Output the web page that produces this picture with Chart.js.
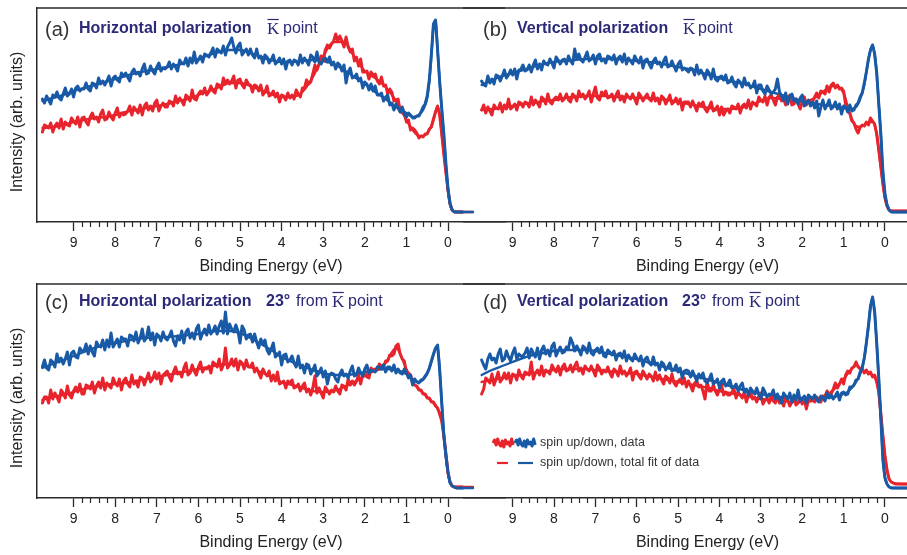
<!DOCTYPE html>
<html>
<head>
<meta charset="utf-8">
<script src="https://cdn.jsdelivr.net/npm/chart.js@4.4.0/dist/chart.umd.min.js"></script>
<style>
  html, body { margin: 0; padding: 0; width: 907px; height: 555px; overflow: hidden; background: #fff; }
  canvas { position: absolute; }
</style>
</head>
<body>
<canvas id="pa" width="520" height="279" style="left:0px;top:0px"></canvas>
<canvas id="pb" width="489" height="279" style="left:463px;top:0px"></canvas>
<canvas id="pc" width="520" height="279" style="left:0px;top:276px"></canvas>
<canvas id="pd" width="489" height="279" style="left:463px;top:276px"></canvas>
<script>
// Spin-resolved photoemission spectra: intensity vs binding energy (eV).
// Measured curves are sampled every 0.05 eV starting at 9.75 eV.
const dataStart = 9.75;
const dataStep = 0.05;

// Energies of the total-fit curves.
const fitEnergy = [9.75,9.5,9.25,9,8.75,8.5,8.25,8,7.75,7.5,7.25,7,6.75,6.5,6.25,6,5.75,5.5,5.25,5,
  4.75,4.5,4.25,4,3.75,3.5,3.25,3,2.75,2.5,2.25,2,1.75,1.5,1.25,1,
  0.85,0.7,0.6,0.5,0.45,0.4,0.35,0.3,0.25,0.2,0.15,0.1,0.05,0,-0.05,-0.1,-0.2,-0.4,-0.6];

const majorTicks = [9, 8, 7, 6, 5, 4, 3, 2, 1, 0];
const minorStep = 0.2;

// (a) horizontal polarization, K point
const spinDownA = [
  123,119,126,122,118,127,125,130,124,122,128,134,126,128,133,125,134,136,131,133,
  133,139,133,131,139,138,134,144,138,141,137,141,146,136,144,146,142,140,149,146,
  149,145,141,150,153,148,150,146,153,158,148,149,156,151,148,155,159,151,154,153,
  155,160,153,158,155,151,162,159,158,164,156,164,159,170,159,162,166,160,168,167,
  165,169,174,165,173,171,169,176,167,175,179,184,175,169,176,179,167,170,173,167,
  173,167,164,173,164,166,159,167,165,159,162,167,158,160,164,158,163,153,161,162,
  157,162,161,157,167,159,164,161,157,167,165,160,170,160,158,163,164,160,165,157,
  160,153,159,157,151,157,139,150,154,144,145,148,141,144,134,140,138,132,138,131,
  136,127,127,129,121,125,127,117,119,112,118,114,110,115,108,105,109,107,104,104,
  106,106,110,115,118,126,142,168,198,202,172,140,113,88,58,33,18,12,10,10,
  10,10,10];
const spinUpA = [
  90,97,96,94,99,90,96,99,94,103,93,100,97,96,104,101,98,105,95,104,
  105,100,97,105,109,103,105,100,108,112,102,103,110,105,102,109,114,105,109,107,
  108,111,116,107,115,112,109,117,107,116,119,112,116,111,119,122,111,116,119,115,
  115,121,120,116,126,119,124,121,117,127,125,121,132,123,122,128,131,128,134,127,
  130,136,131,129,138,137,133,144,138,142,138,141,146,134,142,143,137,134,142,138,
  137,130,137,136,131,137,127,130,136,126,127,131,125,129,120,127,126,122,129,124,
  127,123,132,128,125,134,134,142,138,140,148,157,152,158,166,161,172,177,174,178,
  181,188,181,186,181,175,185,175,170,173,161,165,156,163,150,150,151,143,150,147,
  148,141,138,145,136,137,128,133,130,121,122,123,111,109,110,100,102,92,94,92,
  89,84,86,85,88,88,93,95,103,110,116,107,88,68,50,32,18,12,10,10,
  10,10,10];
const spinDownFitA = [121,124,127,131,134,137,140,143,146,149,151,153,155,157,160,163,167,170,172,172,
  169,165,162,160,160,161,162,161,158,152,145,138,130,123,115,109,
  105,107,112,124,140,166,196,201,172,140,113,86,57,32,18,12,10,10,10];
const spinUpFitA = [94,95,97,100,102,104,105,107,110,112,114,116,118,121,123,127,131,135,139,139,
  136,132,128,125,125,130,145,166,180,180,165,151,144,135,121,102,
  92,86,86,89,92,96,102,110,115,107,88,68,49,31,18,12,10,10,10];

// (b) vertical polarization, K point
const spinDownB = [
  141,137,136,146,139,143,138,147,146,141,146,152,144,147,152,147,153,143,152,153,
  157,151,152,157,150,157,162,153,158,152,161,158,157,163,159,154,165,162,158,162,
  163,158,166,161,158,173,163,168,162,160,165,170,161,163,167,158,166,168,161,163,
  159,166,165,162,167,158,164,166,160,168,158,164,161,158,166,162,159,165,154,162,
  163,158,154,161,164,158,160,155,161,165,155,156,161,156,151,158,161,152,154,152,
  150,154,153,147,157,148,152,148,143,152,149,143,153,143,141,145,146,142,147,139,
  140,145,138,135,142,140,135,144,137,139,134,136,141,129,137,137,131,128,136,132,
  128,130,133,143,130,126,122,129,118,126,128,121,123,118,124,127,116,119,122,116,
  120,114,121,106,115,122,113,117,122,113,115,120,113,118,108,116,115,110,117,111,
  112,117,119,125,129,139,150,163,172,177,168,149,118,88,50,28,17,12,10,10,
  10,10,10,10,10,10,10];
const spinUpB = [
  112,117,109,115,111,107,117,114,113,119,110,117,113,123,113,115,118,112,120,119,
  115,120,119,115,125,117,122,119,115,125,123,118,128,120,118,123,125,122,128,121,
  123,128,122,120,128,126,121,131,125,128,123,126,131,120,128,135,124,122,130,127,
  131,124,125,128,121,127,131,122,126,120,128,125,123,128,123,118,129,126,121,125,
  128,123,121,129,121,124,118,126,124,118,122,127,118,120,124,118,123,112,120,120,
  120,115,121,116,111,119,116,120,113,110,115,120,111,112,116,107,115,107,111,113,
  109,116,115,113,118,109,116,118,114,122,113,120,118,116,125,122,120,126,117,125,
  127,122,117,125,127,121,123,117,124,127,117,118,123,118,113,120,125,117,120,119,
  120,125,129,124,131,130,128,136,130,137,139,134,137,133,134,131,117,111,109,101,
  99,93,89,95,97,96,100,97,104,101,98,88,72,55,38,24,16,12,11,11,
  11,11,11,11,11,11,11];
const spinDownFitB = [137,142,146,149,152,155,158,160,161,162,163,163,163,163,162,161,160,159,157,155,
  153,150,147,144,141,139,136,133,130,127,124,121,119,117,116,114,
  113,115,123,137,150,162,172,177,168,149,118,87,50,28,17,12,10,10,10];
const spinUpFitB = [112,113,114,116,118,119,121,122,124,125,126,126,126,125,125,124,124,123,122,120,
  118,116,114,113,113,114,117,121,124,123,121,120,123,130,136,129,
  108,96,95,97,98,99,100,100,97,88,72,55,38,24,16,12,11,11,11];

// (c) horizontal polarization, 23 degrees from K
const spinDownC = [
  131,138,130,128,138,136,131,144,136,140,134,139,146,133,145,147,141,140,150,147,
  147,154,144,152,146,142,156,152,151,158,148,158,151,165,151,155,159,151,161,159,
  159,152,163,162,157,166,155,160,169,157,160,171,158,165,153,164,162,157,166,160,
  158,162,167,157,152,162,158,167,155,166,169,160,165,159,169,173,159,165,169,163,
  173,164,167,172,164,172,177,165,186,164,174,169,166,173,167,155,172,168,159,163,
  164,156,164,156,150,159,154,158,148,144,149,155,141,143,146,133,143,144,136,138,
  142,135,131,142,130,133,125,134,133,124,128,133,122,125,130,121,127,114,123,125,
  124,119,116,124,128,122,124,120,127,132,122,123,130,125,122,129,133,125,128,127,
  126,131,131,129,133,126,131,131,127,133,125,129,125,124,129,125,120,123,113,119,
  116,115,118,119,122,125,130,137,144,150,153,128,95,63,42,26,15,12,11,10,
  10,10,10];
const spinUpC = [
  95,101,101,95,108,99,105,101,96,108,105,100,112,103,100,107,111,106,114,104,
  104,113,112,109,116,105,112,116,110,120,108,115,112,110,120,115,112,119,108,117,
  120,114,111,123,114,117,111,121,120,113,119,125,116,119,126,119,125,114,123,125,
  127,121,117,126,131,124,126,121,130,135,123,125,133,127,123,131,136,126,130,129,
  132,125,136,134,131,139,128,133,150,130,133,139,132,139,128,137,135,129,138,131,
  131,135,126,130,125,120,129,125,122,127,117,123,117,126,114,115,117,110,117,115,
  118,110,111,114,107,112,115,106,109,103,110,122,105,110,105,100,111,108,104,108,
  106,112,107,104,113,112,108,119,113,117,113,117,123,114,123,125,121,120,130,128,
  129,128,134,132,131,137,137,143,142,144,152,154,144,139,137,125,125,123,115,113,
  112,108,108,104,104,100,100,96,96,92,90,84,77,62,44,25,16,12,11,11,
  11,11,11];
const spinDownFitC = [130,134,138,142,146,150,153,155,157,159,160,161,161,162,163,164,166,167,167,165,
  160,154,148,141,136,132,128,125,123,123,124,126,128,129,128,124,
  119,116,118,124,129,136,143,149,152,128,95,63,41,25,15,12,10,10,10];
const spinUpFitC = [98,101,103,106,109,111,113,114,115,117,119,121,123,125,127,129,131,133,134,134,
  131,126,121,116,113,110,107,106,107,111,116,122,128,135,150,129,
  116,109,105,101,99,97,95,93,89,85,77,62,44,25,16,12,11,11,11];

// (d) vertical polarization, 23 degrees from K
const spinDownD = [
  138,133,129,139,144,138,140,135,144,149,137,139,147,141,137,145,150,139,144,142,
  142,145,150,140,149,145,141,150,139,148,152,144,148,142,152,155,142,147,151,145,
  146,151,150,160,155,147,152,148,143,152,150,145,155,145,143,148,150,145,151,142,
  141,148,146,143,147,138,144,145,140,147,137,143,139,137,144,140,137,142,132,139,
  141,135,133,141,133,135,128,136,134,128,131,135,127,128,133,126,130,120,127,128,
  127,121,127,122,117,124,120,125,117,115,119,124,114,116,119,110,117,119,112,114,
  118,110,111,114,107,112,115,106,109,103,110,107,104,110,104,99,110,106,101,104,
  103,108,99,104,99,95,105,102,99,105,96,103,98,108,97,99,102,95,103,101,
  99,103,98,96,102,101,97,105,100,103,99,102,106,98,105,106,103,104,111,111,
  113,118,119,126,130,140,155,172,192,201,186,155,120,80,38,20,14,11,10,10,
  10,10,10,10,10,10,10];
const spinUpD = [
  104,109,120,118,115,124,113,119,126,116,119,125,119,125,115,124,123,118,128,122,
  119,126,125,123,136,119,125,128,123,132,122,128,126,124,133,129,126,132,123,131,
  134,127,128,133,126,132,136,127,130,124,132,129,127,132,127,122,133,130,124,128,
  126,131,125,121,129,127,122,132,124,127,122,125,130,118,126,127,122,119,127,123,
  119,124,122,117,126,118,123,118,114,122,120,115,124,115,112,117,119,114,120,111,
  117,112,107,115,117,111,113,107,99,117,107,107,113,107,103,109,113,103,106,103,
  103,106,109,100,106,103,100,106,96,103,106,99,101,96,102,105,94,98,100,95,
  102,97,95,103,95,98,92,100,98,92,96,101,93,95,100,94,99,89,98,99,
  99,96,101,98,96,102,102,107,103,104,109,115,110,114,119,114,123,127,125,130,
  131,136,131,129,129,125,128,124,126,121,123,116,106,84,62,42,28,19,16,15,
  14,14,14,14,14,14,14];
const spinDownFitD = [123,128,132,136,140,143,145,147,148,148,148,147,145,143,141,139,136,133,130,127,
  124,121,118,115,112,109,106,104,102,101,100,100,100,100,101,104,
  108,116,124,140,155,172,191,200,186,155,119,80,39,20,14,11,10,10,10];
const spinUpFitD = [116,118,120,122,123,125,126,128,129,129,129,128,127,126,125,124,122,120,118,116,
  114,112,110,107,105,103,101,99,98,97,96,96,97,100,108,119,
  127,133,130,127,126,125,124,123,121,116,105,84,62,42,28,19,15,14,14];

// ---- styling ----
const RED = '#e8232b';
const BLUE = '#195aa6';
const NAVY = '#2b2a78';
const AXIS = '#2a2a2a';
const TEXT = '#222222';
const SANS = '"Liberation Sans", Arial, Helvetica, sans-serif';
const SERIF = '"Liberation Serif", "Times New Roman", serif';

function measured(values) {
  return values.map((v, i) => ({ x: Math.round((dataStart - dataStep * i) * 100) / 100, y: v }));
}
function fitted(values) {
  return values.map((v, i) => ({ x: fitEnergy[i], y: v }));
}

// Top frame line and the minor ticks of the energy axis.
const framePlugin = {
  id: 'frame',
  afterDraw(chart) {
    const { ctx, chartArea } = chart;
    const xs = chart.scales.x;
    ctx.save();
    ctx.strokeStyle = AXIS;
    ctx.lineWidth = 1.5;
    ctx.beginPath();
    ctx.moveTo(chartArea.left - (chart.options.plugins.frame.leftAxis ? 0.75 : 0), chartArea.top);
    ctx.lineTo(chartArea.right, chartArea.top);
    ctx.stroke();
    ctx.lineWidth = 1.2;
    ctx.beginPath();
    for (let k = 1; k < 45; k++) {
      if (k % 5 === 0) continue;
      const px = Math.round(xs.getPixelForValue(k * minorStep)) + 0.5;
      ctx.moveTo(px, chartArea.bottom);
      ctx.lineTo(px, chartArea.bottom + 5);
    }
    ctx.stroke();
    ctx.restore();
  }
};

// Panel heading, vertical axis title and legend.
const textPlugin = {
  id: 'panelText',
  afterDraw(chart, args, opts) {
    const ctx = chart.ctx;
    ctx.save();
    ctx.textBaseline = 'middle';
    ctx.textAlign = 'left';
    for (const s of opts.heading) {
      ctx.font = s.font;
      ctx.fillStyle = s.color;
      ctx.fillText(s.text, s.x, opts.headingY + (s.dy || 0));
      if (s.bar) {
        const w = ctx.measureText(s.text).width;
        ctx.strokeStyle = s.color;
        ctx.lineWidth = 1.2;
        ctx.beginPath();
        ctx.moveTo(s.x + 0.5, opts.headingY - 9.5);
        ctx.lineTo(s.x + w - 0.5, opts.headingY - 9.5);
        ctx.stroke();
      }
    }
    if (opts.yTitle) {
      ctx.save();
      ctx.translate(opts.yTitle.x, opts.yTitle.y);
      ctx.rotate(-Math.PI / 2);
      ctx.textAlign = 'center';
      ctx.font = '16px ' + SANS;
      ctx.fillStyle = TEXT;
      ctx.fillText(opts.yTitle.text, 0, 0);
      ctx.restore();
    }
    if (opts.legend) {
      const L = opts.legend;
      const jag = [0, -3, 2, -4, 1, 3, -2, 4, -3, 1, -1, 3, -4, 2];
      const swatch = (x0, color) => {
        ctx.strokeStyle = color;
        ctx.lineWidth = 3;
        ctx.lineJoin = 'round';
        ctx.beginPath();
        jag.forEach((d, i) => {
          const x = x0 + i * 1.55, y = L.y1 + d;
          if (i === 0) ctx.moveTo(x, y); else ctx.lineTo(x, y);
        });
        ctx.stroke();
      };
      swatch(L.x, RED);
      swatch(L.x + 22, BLUE);
      ctx.lineWidth = 2.2;
      ctx.strokeStyle = RED;
      ctx.beginPath(); ctx.moveTo(L.x + 4, L.y2); ctx.lineTo(L.x + 15, L.y2); ctx.stroke();
      ctx.strokeStyle = BLUE;
      ctx.beginPath(); ctx.moveTo(L.x + 25, L.y2); ctx.lineTo(L.x + 40, L.y2); ctx.stroke();
      ctx.font = '12.5px ' + SANS;
      ctx.fillStyle = '#333333';
      ctx.fillText('spin up/down, data', L.x + 47, L.y1);
      ctx.fillText('spin up/down, total fit of data', L.x + 47, L.y2);
    }
    ctx.restore();
  }
};

function heading(letter, pol, angle, x0, marks) {
  const segs = [
    { text: '(' + letter + ')', x: marks[0], font: '20px ' + SANS, color: '#333333', dy: 1 },
    { text: pol, x: marks[1], font: 'bold 16px ' + SANS, color: NAVY }
  ];
  if (angle) {
    segs.push({ text: '23°', x: marks[2], font: 'bold 16px ' + SANS, color: NAVY });
    segs.push({ text: 'from', x: marks[3], font: '16px ' + SANS, color: NAVY });
  }
  segs.push({ text: 'K', x: marks[marks.length - 2], font: '17px ' + SERIF, color: NAVY, bar: true, dy: 1 });
  segs.push({ text: 'point', x: marks[marks.length - 1], font: '16px ' + SANS, color: NAVY });
  segs.forEach(s => { s.x -= x0; });
  return segs;
}

function makePanel(id, isLeft, up, down, upFit, downFit, head, headingY, legend) {
  const xMin = isLeft ? -1.37 : -1.62;
  const xMax = isLeft ? 9.88 : 10.2;
  const lineSet = (label, pts, color, width, smooth) => ({
    label, data: pts, borderColor: color, backgroundColor: color, borderWidth: width,
    borderJoinStyle: 'round', borderCapStyle: 'round',
    pointRadius: 0, fill: false, tension: 0,
    cubicInterpolationMode: smooth ? 'monotone' : 'default'
  });
  return new Chart(document.getElementById(id), {
    type: 'line',
    data: {
      datasets: [
        lineSet('spin down, data', measured(down), BLUE, 3, false),
        lineSet('spin up, data', measured(up), RED, 3, false),
        lineSet('spin down, total fit', fitted(downFit), BLUE, 2.4, true),
        lineSet('spin up, total fit', fitted(upFit), RED, 2.4, true)
      ]
    },
    options: {
      responsive: false,
      animation: false,
      events: [],
      layout: { padding: { left: 0, right: isLeft ? 15 : 0, top: 8, bottom: 0 } },
      plugins: {
        legend: { display: false },
        tooltip: { enabled: false },
        frame: { leftAxis: isLeft },
        panelText: {
          heading: head,
          headingY: headingY,
          yTitle: isLeft ? { text: 'Intensity (arb. units)', x: 18, y: 122 } : null,
          legend: legend
        }
      },
      scales: {
        x: {
          type: 'linear',
          reverse: true,
          min: xMin,
          max: xMax,
          afterBuildTicks: s => { s.ticks = majorTicks.map(v => ({ value: v })); },
          afterFit: s => { s.height = 57; },
          grid: { display: true, drawOnChartArea: false, drawTicks: true, tickLength: 9, tickWidth: 1.3, tickColor: AXIS },
          border: { display: true, color: AXIS, width: 1.5 },
          ticks: { autoSkip: false, maxRotation: 0, padding: 4, color: TEXT, font: { family: SANS, size: 14 } },
          title: { display: true, text: 'Binding Energy (eV)', color: TEXT, font: { family: SANS, size: 16 }, padding: { top: 0, bottom: 3 } }
        },
        y: {
          display: isLeft,
          min: 0,
          max: 214,
          afterFit: s => { s.width = isLeft ? 37 : 0; },
          grid: { display: false, drawTicks: false },
          ticks: { display: false },
          border: { display: isLeft, color: AXIS, width: 1.5 }
        }
      }
    },
    plugins: [framePlugin, textPlugin]
  });
}

makePanel('pa', true, spinUpA, spinDownA, spinUpFitA, spinDownFitA,
  heading('a', 'Horizontal polarization', false, 0, [45, 79, 267, 283]), 29, null);
makePanel('pb', false, spinUpB, spinDownB, spinUpFitB, spinDownFitB,
  heading('b', 'Vertical polarization', false, 463, [483, 517, 683, 698]), 29, null);
makePanel('pc', true, spinUpC, spinDownC, spinUpFitC, spinDownFitC,
  heading('c', 'Horizontal polarization', true, 0, [45, 79, 266, 296, 332, 348]), 26, null);
makePanel('pd', false, spinUpD, spinDownD, spinUpFitD, spinDownFitD,
  heading('d', 'Vertical polarization', true, 463, [483, 517, 682, 712, 749, 765]), 26,
  { x: 30, y1: 167, y2: 187 });
</script>
</body>
</html>
